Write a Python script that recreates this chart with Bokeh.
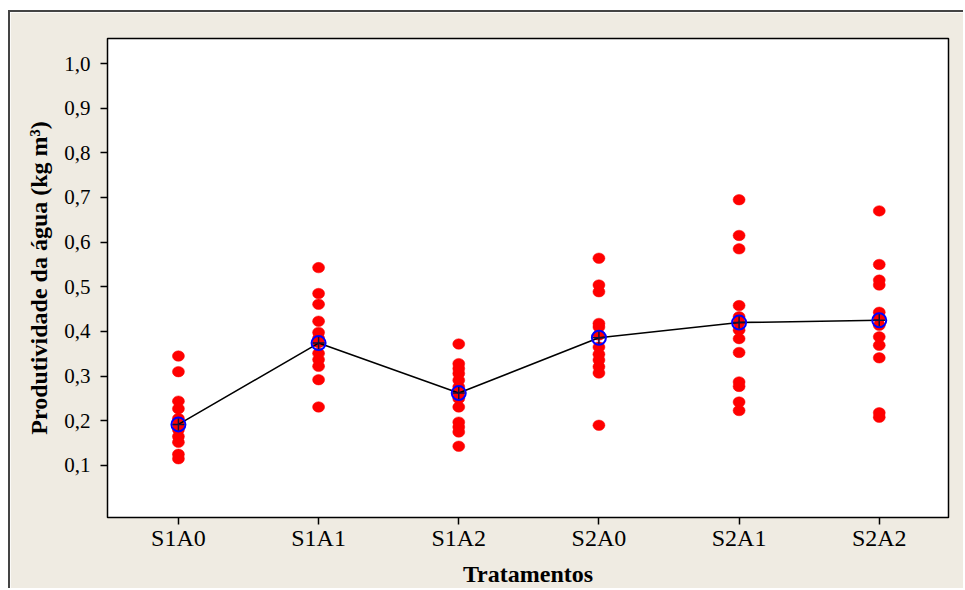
from bokeh.plotting import figure
from bokeh.models import FixedTicker, ColumnDataSource
from bokeh.embed import file_html
from bokeh.resources import INLINE

categories = ["S1A0", "S1A1", "S1A2", "S2A0", "S2A1", "S2A2"]

s1a0 = [0.345, 0.31, 0.244, 0.227, 0.205, 0.192, 0.18, 0.165, 0.152, 0.125, 0.115]
s1a1 = [0.543, 0.485, 0.461, 0.423, 0.398, 0.385, 0.375, 0.351, 0.337, 0.322, 0.292, 0.231]
s1a2 = [0.372, 0.328, 0.317, 0.306, 0.291, 0.276, 0.262, 0.25, 0.231, 0.197, 0.186, 0.175, 0.143]
s2a0 = [0.564, 0.504, 0.489, 0.418, 0.41, 0.392, 0.365, 0.349, 0.336, 0.321, 0.307, 0.19]
s2a1 = [0.695, 0.615, 0.585, 0.458, 0.433, 0.42, 0.403, 0.384, 0.353, 0.287, 0.277, 0.242, 0.223]
s2a2 = [0.67, 0.55, 0.515, 0.504, 0.443, 0.43, 0.414, 0.388, 0.369, 0.341, 0.218, 0.208]

means = [0.192, 0.374, 0.262, 0.386, 0.420, 0.425]

y_ticks = [0.1, 0.2, 0.3, 0.4, 0.5, 0.6, 0.7, 0.8, 0.9, 1.0]
y_tick_labels = ["0,1", "0,2", "0,3", "0,4", "0,5", "0,6", "0,7", "0,8", "0,9", "1,0"]

groups = [s1a0, s1a1, s1a2, s2a0, s2a1, s2a2]
xs, ys = [], []
for i, g in enumerate(groups):
    xs += [i + 1] * len(g)
    ys += g
pts = ColumnDataSource(dict(x=xs, y=ys))
msrc = ColumnDataSource(dict(x=list(range(1, len(categories) + 1)), y=means))

BEIGE = "#efebe2"
SERIF = "Liberation Serif"

p = figure(width=955, height=578, output_backend="svg", toolbar_location=None,
           x_range=(0.494, 6.494), y_range=(-0.0165, 1.056),
           min_border_left=97, min_border_right=17, min_border_top=26, min_border_bottom=73,
           background_fill_color="white", border_fill_color=BEIGE,
           outline_line_color="black", outline_line_width=1.5)
p.margin = (10, 0, 0, 8)
p.styles = {"border-top": "2px solid #444", "border-left": "2px solid #444"}
p.grid.visible = False

p.ellipse(x="x", y="y", width=12, height=10.5, width_units="screen", height_units="screen",
          source=pts, fill_color="red", line_color="red", line_width=0.5)
p.line(x="x", y="y", source=msrc, line_color="black", line_width=1.6)
p.scatter(x="x", y="y", source=msrc, marker="circle", size=14, fill_color=None,
          line_color="blue", line_width=2)
p.scatter(x="x", y="y", source=msrc, marker="cross", size=12, line_color="#101040",
          line_width=1.5)

xa = p.xaxis[0]
xa.ticker = FixedTicker(ticks=list(range(1, len(categories) + 1)))
xa.major_label_overrides = {i + 1: c for i, c in enumerate(categories)}
xa.axis_label = "Tratamentos"
ya = p.yaxis[0]
ya.ticker = FixedTicker(ticks=y_ticks)
ya.major_label_overrides = {t: l for t, l in zip(y_ticks, y_tick_labels)}
ya.axis_label = "Produtividade da água (kg m³)"

for ax in (xa, ya):
    ax.axis_line_color = None
    ax.major_tick_in = 0
    ax.major_tick_out = 7
    ax.major_tick_line_color = "black"
    ax.major_tick_line_width = 1.5
    ax.minor_tick_line_color = None
    ax.major_label_text_font = SERIF
    ax.major_label_text_color = "black"
    ax.axis_label_text_font = SERIF
    ax.axis_label_text_font_style = "bold"
    ax.axis_label_text_color = "black"

xa.major_label_text_font_size = "24px"
xa.major_label_standoff = 0
xa.axis_label_text_font_size = "24px"
xa.axis_label_standoff = 7
ya.major_label_text_font_size = "21px"
ya.major_label_standoff = 10
ya.axis_label_text_font_size = "24px"
ya.axis_label_standoff = 9

open("out.html", "w").write(file_html(p, INLINE))
